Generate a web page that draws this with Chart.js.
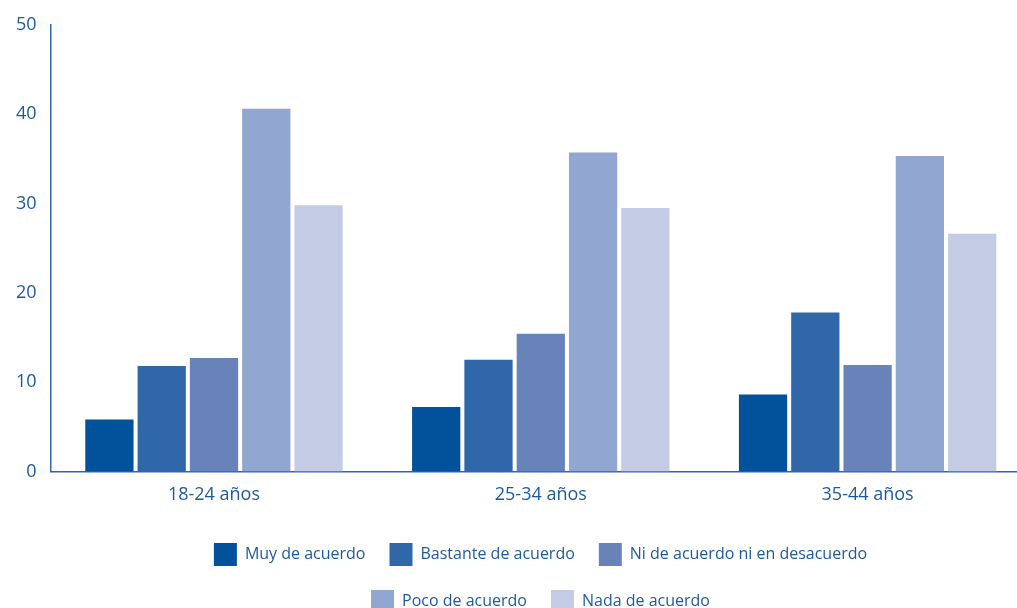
<!DOCTYPE html>
<html>
<head>
<meta charset="utf-8">
<script src="https://cdn.jsdelivr.net/npm/chart.js@4/dist/chart.umd.min.js"></script>
<style>
  html, body { margin: 0; padding: 0; background: #fff; overflow: hidden; }
  body { width: 1017px; height: 608px; }
  #wrap { width: 1031px; height: 608px; }
</style>
</head>
<body>
<div id="wrap"><canvas id="myChart"></canvas></div>
<script>
var categorias = ['18-24 años', '25-34 años', '35-44 años'];
var muyDeAcuerdo = [5.8, 7.2, 8.6];
var bastanteDeAcuerdo = [11.8, 12.5, 17.8];
var niDeAcuerdo = [12.7, 15.4, 11.9];
var pocoDeAcuerdo = [40.6, 35.7, 35.3];
var nadaDeAcuerdo = [29.8, 29.5, 26.6];
var ticksY = [0, 10, 20, 30, 40, 50];

var azulTexto = '#1d5a9d';
var fuente = "'Open Sans', sans-serif";

Chart.defaults.font.family = fuente;
Chart.defaults.color = azulTexto;

// the plot runs past the right edge of the picture; legend wraps after the
// third item and sits a bit right of centre, like the original
var cortarLeyenda = {
    id: 'cortarLeyenda',
    afterInit: function(chart){
        var lg = chart.legend;
        var fitOriginal = lg.fit;
        lg.fit = function(){
            var mw = this.maxWidth;
            this.maxWidth = Math.min(mw, 760);
            fitOriginal.call(this);
            this.maxWidth = mw;
            this.width = mw;
            this.height -= 15;
        };
    },
    afterLayout: function(chart){
        chart.legend.left += 24;
        chart.legend.right += 24;
    }
};

var ctx = document.getElementById('myChart').getContext('2d');
var myChart = new Chart(ctx, {
    type: 'bar',
    data: {
        labels: categorias,
        datasets: [
            { label: 'Muy de acuerdo', data: muyDeAcuerdo, backgroundColor: '#02519b' },
            { label: 'Bastante de acuerdo', data: bastanteDeAcuerdo, backgroundColor: '#2f67a9' },
            { label: 'Ni de acuerdo ni en desacuerdo', data: niDeAcuerdo, backgroundColor: '#6883ba' },
            { label: 'Poco de acuerdo', data: pocoDeAcuerdo, backgroundColor: '#91a6d0' },
            { label: 'Nada de acuerdo', data: nadaDeAcuerdo, backgroundColor: '#c4cbe4' }
        ]
    },
    options: {
        responsive: true,
        maintainAspectRatio: false,
        animation: false,
        layout: { padding: { top: 16, right: 0, left: 2, bottom: 0 } },
        datasets: {
            bar: { barPercentage: 0.923, categoryPercentage: 0.8 }
        },
        scales: {
            x: {
                grid: { display: false, drawTicks: false },
                border: { display: true, color: '#2f67a9', width: 1.5 },
                ticks: { color: azulTexto, font: { size: 18 }, padding: 13 }
            },
            y: {
                min: 0,
                max: 50,
                afterBuildTicks: function(axis){
                    axis.ticks = ticksY.map(function(v){ return { value: v }; });
                },
                grid: { display: false, drawTicks: false },
                border: { display: true, color: '#2f67a9', width: 1.5 },
                ticks: { color: azulTexto, font: { size: 18 }, padding: 14 }
            }
        },
        plugins: {
            legend: {
                position: 'bottom',
                labels: {
                    boxWidth: 23,
                    boxHeight: 23,
                    padding: 24,
                    color: azulTexto,
                    font: { size: 16 }
                }
            },
            tooltip: { enabled: false }
        }
    },
    plugins: [cortarLeyenda]
});
</script>
</body>
</html>
